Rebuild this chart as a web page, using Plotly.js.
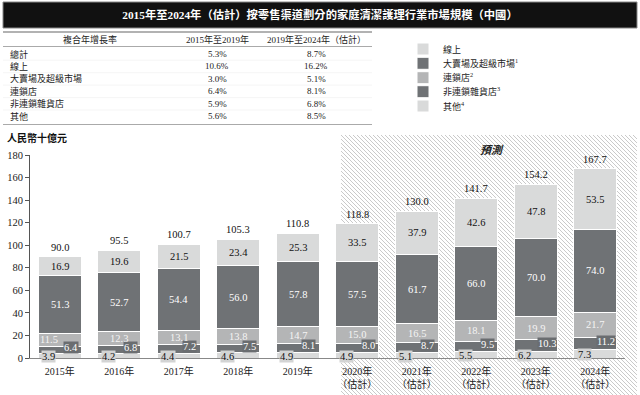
<!DOCTYPE html>
<html><head><meta charset="utf-8">
<script src="https://cdn.plot.ly/plotly-3.0.1.min.js"></script>
<style>html,body{margin:0;padding:0;background:#fff}#chart{width:640px;height:395px}</style>
</head><body><div id="chart"></div>
<script>
// ---- data ----
const years = ['2015','2016','2017','2018','2019','2020','2021','2022','2023','2024'];
const yearLabels = ['2015年','2016年','2017年','2018年','2019年','2020年<br>（估計）','2021年<br>（估計）','2022年<br>（估計）','2023年<br>（估計）','2024年<br>（估計）'];
const others   = [3.9, 4.2, 4.4, 4.6, 4.9, 4.9, 5.1, 5.5, 6.2, 7.3];
const nonChain = [6.4, 6.8, 7.2, 7.5, 8.1, 8.0, 8.7, 9.5, 10.3, 11.2];
const chain    = [11.5, 12.3, 13.1, 13.8, 14.7, 15.0, 16.5, 18.1, 19.9, 21.7];
const hyper    = [51.3, 52.7, 54.4, 56.0, 57.8, 57.5, 61.7, 66.0, 70.0, 74.0];
const online   = [16.9, 19.6, 21.5, 23.4, 25.3, 33.5, 37.9, 42.6, 47.8, 53.5];
const totals   = [90.0, 95.5, 100.7, 105.3, 110.8, 118.8, 130.0, 141.7, 154.2, 167.7];
const seriesNames = ['其他<sup>4</sup>','非連鎖雜貨店<sup>3</sup>','連鎖店<sup>2</sup>','大賣場及超級市場<sup>1</sup>','線上'];

const tableHeader = ['複合年增長率','2015年至2019年','2019年至2024年（估計）'];
const tableRows   = ['總計','線上','大賣場及超級市場','連鎖店','非連鎖雜貨店','其他'];
const cagr1519    = ['5.3%','10.6%','3.0%','6.4%','5.9%','5.6%'];
const cagr1924    = ['8.7%','16.2%','5.1%','8.1%','6.8%','8.5%'];

const titleText = '2015年至2024年（估計）按零售渠道劃分的家庭清潔護理行業市場規模（中國）';
const yUnit = '人民幣十億元';
const forecastLabel = '預測';

// ---- styles ----
const W = 640, H = 395;
const px = x => x / W, py = y => 1 - y / H;
const SERIF = 'Liberation Serif, Noto Sans CJK TC, serif';
const LIGHT = '#d9dada', DARK = '#6f7275', MID = '#b4b5b6';
const seriesData = [others, nonChain, chain, hyper, online];
const seriesColors = [LIGHT, DARK, MID, DARK, LIGHT];
const legendIds = ['legend5','legend4','legend3','legend2','legend'];

const traces = seriesData.map((vals, k) => ({
  type: 'bar', x: years, y: vals, name: seriesNames[k],
  marker: {color: seriesColors[k], line: {color: '#ffffff', width: 1}},
  width: 0.72, legend: legendIds[k], hoverinfo: 'skip', showlegend: true
}));

// ---- annotations ----
const ann = [];
const LBL = 10.5;
const lab = (x, y, text, color, extra) => Object.assign({x, y, xref: 'x', yref: 'y', text, showarrow: false,
  font: {family: SERIF, size: LBL, color}}, extra || {});
years.forEach((yr, i) => {
  const b1 = others[i], b2 = b1 + nonChain[i], b3 = b2 + chain[i], b4 = b3 + hyper[i];
  ann.push(lab(i, others[i] / 2, others[i].toFixed(1), '#111', {xshift: -11, yshift: -1, bgcolor: '#d3d4d4', borderpad: 0}));
  ann.push(lab(i, b1 + nonChain[i] / 2, nonChain[i].toFixed(1), '#fff', {xshift: 11, yshift: 2, bgcolor: '#6a6d70', borderpad: 0}));
  ann.push(lab(i, b2 + chain[i] / 2, chain[i].toFixed(1), '#f4f4f4', {xshift: i === 0 ? -11 : 0}));
  ann.push(lab(i, b3 + hyper[i] / 2, hyper[i].toFixed(1), '#fff'));
  ann.push(lab(i, b4 + online[i] / 2, online[i].toFixed(1), '#111'));
  ann.push(lab(i, totals[i], totals[i].toFixed(1), '#111', {yanchor: 'bottom', yshift: 2}));
});
const pann = (x, y, text, xanchor, size, extra) => Object.assign({xref: 'paper', yref: 'paper', x: px(x), y: py(y),
  xanchor, yanchor: 'middle', showarrow: false, text, font: {family: SERIF, size, color: '#222'}}, extra || {});
ann.push(pann(5, 138, '<b>' + yUnit + '</b>', 'left', 10, {font: {family: SERIF, size: 10, color: '#111'}}));
ann.push(pann(492, 150, '<b><i>' + forecastLabel + '</i></b>', 'center', 11));

// table text
const colX = [90, 217, 316];
tableHeader.forEach((h, c) => ann.push(pann(colX[c], 39.5, h, 'center', 9)));
const rowY0 = 54, rowDY = 12.45;
tableRows.forEach((r, k) => {
  const yy = rowY0 + k * rowDY;
  ann.push(pann(8, yy, r, 'left', 9));
  ann.push(pann(colX[1], yy, cagr1519[k], 'center', 9));
  ann.push(pann(colX[2], yy, cagr1924[k], 'center', 9));
});

// ---- shapes: title bar and table rules ----
const hl = (y, color, width) => ({type: 'line', xref: 'paper', yref: 'paper', x0: px(3), x1: px(372), y0: py(y), y1: py(y), line: {color, width}});
const shapes = [
  {type: 'rect', xref: 'paper', yref: 'paper', x0: px(3), x1: px(637), y0: py(28), y1: py(2), fillcolor: '#111', line: {color: '#888', width: 1}, layer: 'below'},
  hl(32, '#666', 1.2), hl(46.5, '#aaa', 1), hl(124.5, '#aaa', 1)
];
for (let r = 1; r < tableRows.length; r++) shapes.push(hl(rowY0 + (r - 0.5) * rowDY, '#eeeeee', 0.6));

// hatch background for forecast region
const hx0 = 341, hx1 = 637, hy0 = 135, hy1 = 395;
const svg = "<svg xmlns='http://www.w3.org/2000/svg' width='" + (hx1 - hx0) + "' height='" + (hy1 - hy0) + "'>" +
  "<defs><pattern id='p' width='4' height='4' patternUnits='userSpaceOnUse'>" +
  "<path d='M-1,-1 L5,5 M-1,3 L1,5 M3,-1 L5,1' stroke='#c4c4c4' stroke-width='0.9'/></pattern></defs>" +
  "<rect width='100%' height='100%' fill='url(#p)'/></svg>";
const images = [{source: 'data:image/svg+xml;charset=utf-8,' + encodeURIComponent(svg), xref: 'paper', yref: 'paper',
  x: px(hx0), y: py(hy0), sizex: (hx1 - hx0) / W, sizey: (hy1 - hy0) / H, xanchor: 'left', yanchor: 'top', sizing: 'stretch', layer: 'below'}];

// ---- legends ----
const legendRowsY = [49, 63.3, 77.7, 91.7, 106];
const legendBase = {x: px(403), xanchor: 'left', yanchor: 'middle', bgcolor: 'rgba(0,0,0,0)', borderwidth: 0,
  font: {family: SERIF, size: 9, color: '#222'}};
const layout = {
  width: W, height: H, margin: {l: 0, r: 0, t: 0, b: 0},
  paper_bgcolor: '#fff', plot_bgcolor: 'rgba(0,0,0,0)',
  barmode: 'stack',
  title: {text: '<b>' + titleText + '</b>', x: 0.5, xanchor: 'center', xref: 'paper', y: py(15), yref: 'container', yanchor: 'middle',
          font: {family: SERIF, size: 11.3, color: '#fff'}},
  xaxis: {domain: [px(30), px(625)], range: [-0.5, 9.5], type: 'category', tickvals: years, ticktext: yearLabels,
          showline: true, linecolor: '#888', linewidth: 1, ticks: '', ticklabelstandoff: 4, showgrid: false, zeroline: false,
          tickfont: {family: SERIF, size: 10, color: '#222'}, fixedrange: true},
  yaxis: {domain: [py(358), py(155)], range: [0, 180], dtick: 20, showline: true, linecolor: '#555', linewidth: 1,
          ticks: 'outside', ticklen: 4, tickcolor: '#555', showgrid: false, zeroline: false,
          tickfont: {family: SERIF, size: 10.5, color: '#222'}, fixedrange: true},
  annotations: ann, shapes, images,
  showlegend: true
};
['legend','legend2','legend3','legend4','legend5'].forEach((id, k) => {
  layout[id] = Object.assign({}, legendBase, {y: py(legendRowsY[k])});
});

Plotly.newPlot('chart', traces, layout, {displayModeBar: false, staticPlot: true});
</script></body></html>
